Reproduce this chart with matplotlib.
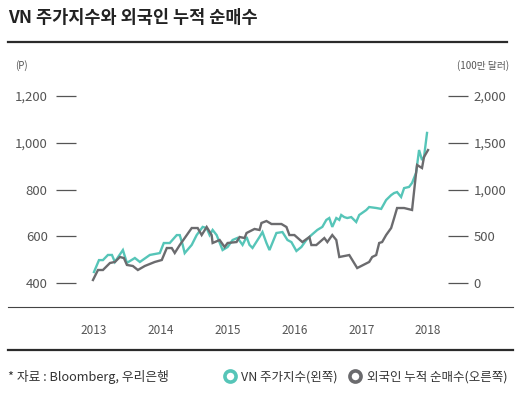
import matplotlib.pyplot as plt
from matplotlib.lines import Line2D

plt.rcParams['font.family'] = ['Noto Sans CJK KR', 'DejaVu Sans']

# VN index (left axis, points), time in fractional years
vn_t = [2013.000, 2013.075, 2013.134, 2013.209, 2013.269, 2013.313, 2013.373, 2013.433,
        2013.493, 2013.612, 2013.687, 2013.836, 2013.985, 2014.045, 2014.134, 2014.239,
        2014.284, 2014.328, 2014.358, 2014.463, 2014.537, 2014.627, 2014.687, 2014.731,
        2014.776, 2014.836, 2014.925, 2015.000, 2015.075, 2015.149, 2015.224, 2015.284,
        2015.328, 2015.373, 2015.478, 2015.522, 2015.582, 2015.627, 2015.731, 2015.821,
        2015.896, 2015.955, 2016.030, 2016.104, 2016.179, 2016.254, 2016.343, 2016.418,
        2016.478, 2016.522, 2016.567, 2016.627, 2016.672, 2016.701, 2016.746, 2016.791,
        2016.851, 2016.925, 2016.970, 2017.075, 2017.119, 2017.224, 2017.299, 2017.373,
        2017.448, 2017.493, 2017.537, 2017.597, 2017.642, 2017.716, 2017.761, 2017.821,
        2017.866, 2017.910, 2017.940, 2017.985]
vn_index = [447, 498, 498, 520, 520, 490, 516, 541,
            486, 507, 490, 520, 528, 571, 571, 605,
            605, 563, 528, 563, 605, 640, 635, 605,
            627, 605, 541, 554, 584, 593, 563, 597,
            563, 550, 597, 618, 571, 541, 614, 618,
            584, 575, 537, 554, 584, 605, 627, 640,
            670, 678, 640, 678, 670, 691, 682, 678,
            682, 661, 691, 712, 725, 721, 717, 755,
            776, 785, 789, 768, 806, 811, 828, 871,
            969, 926, 939, 1042]

# cumulative foreign net buying (right axis, USD mn)
flow_t = [2012.985, 2013.060, 2013.134, 2013.239, 2013.313, 2013.388, 2013.448, 2013.493,
          2013.582, 2013.657, 2013.761, 2013.910, 2014.015, 2014.090, 2014.164, 2014.209,
          2014.284, 2014.358, 2014.463, 2014.552, 2014.612, 2014.687, 2014.761, 2014.776,
          2014.881, 2014.955, 2015.000, 2015.134, 2015.179, 2015.254, 2015.284, 2015.403,
          2015.478, 2015.507, 2015.582, 2015.657, 2015.746, 2015.806, 2015.881, 2015.925,
          2016.000, 2016.119, 2016.224, 2016.254, 2016.328, 2016.448, 2016.493, 2016.567,
          2016.627, 2016.672, 2016.821, 2016.940, 2017.119, 2017.164, 2017.224, 2017.269,
          2017.313, 2017.373, 2017.448, 2017.493, 2017.537, 2017.642, 2017.761, 2017.821,
          2017.836, 2017.910, 2017.940, 2018.000]
foreign_net = [32, 139, 139, 214, 225, 278, 267, 193,
               182, 139, 182, 225, 246, 374, 374, 321,
               406, 481, 588, 588, 513, 599, 513, 428,
               460, 385, 428, 438, 492, 481, 535, 578,
               567, 642, 663, 631, 631, 631, 599, 513,
               513, 438, 492, 406, 406, 481, 438, 513,
               460, 278, 299, 160, 225, 278, 299, 428,
               438, 513, 588, 695, 802, 802, 781, 1176,
               1262, 1230, 1348, 1422]

years = [2013, 2014, 2015, 2016, 2017, 2018]
left_ticks = [400, 600, 800, 1000, 1200]
right_ticks = [0, 500, 1000, 1500, 2000]

teal = '#56c5b8'
gray = '#6b6b6e'
text_c = '#555555'

W, H = 530, 393
fig = plt.figure(figsize=(W / 100, H / 100), dpi=100)

ax = fig.add_axes([76 / W, 1 - 300 / H, (448 - 76) / W, (300 - 85) / H])
ax2 = ax.twinx()

ax.plot(vn_t, vn_index, color=teal, lw=1.7, solid_joinstyle='miter')
ax2.plot(flow_t, foreign_net, color=gray, lw=1.7, solid_joinstyle='miter')

ax.set_xlim(2012.731, 2018.299)
ax.set_ylim(327.3, 1247.1)
ax2.set_ylim(-181.8, 2117.8)

ax.set_xticks(years)
ax.set_xticklabels([str(y) for y in years])
ax.set_yticks(left_ticks)
ax.set_yticklabels([f'{v:,}' for v in left_ticks])
ax2.set_yticks(right_ticks)
ax2.set_yticklabels([f'{v:,}' for v in right_ticks])

for a in (ax, ax2):
    for s in a.spines.values():
        s.set_visible(False)
ax.tick_params(axis='x', length=0, pad=17, labelsize=8.5, labelcolor=text_c)
ax.tick_params(axis='y', length=14.4, width=0.9, color='#555555', pad=6,
               labelsize=9.5, labelcolor=text_c)
ax2.tick_params(axis='y', length=14.4, width=0.9, color='#555555', pad=4,
                labelsize=9.5, labelcolor=text_c)

# title and rules
fig.text(8 / W, 1 - 18 / H, 'VN 주가지수와 외국인 누적 순매수', fontsize=12.6,
         fontweight='bold', color='#222222', va='center', ha='left')
fig.add_artist(Line2D([8 / W, 507 / W], [1 - 42 / H] * 2, color='#2b2b2b', lw=1.6))
fig.add_artist(Line2D([8 / W, 513 / W], [1 - 307 / H] * 2, color='#444444', lw=0.8))
fig.add_artist(Line2D([8 / W, 513 / W], [1 - 350 / H] * 2, color='#2b2b2b', lw=1.6))

fig.text(15 / W, 1 - 66 / H, '(P)', fontsize=7, color=text_c, va='center', ha='left')
fig.text(509 / W, 1 - 66 / H, '(100만 달러)', fontsize=7, color=text_c, va='center', ha='right')

fig.text(8 / W, 1 - 377 / H, '* 자료 : Bloomberg, 우리은행', fontsize=9.2,
         color='#333333', va='center', ha='left')

handles = [Line2D([], [], ls='none', marker='o', ms=8, mfc='white', mec=teal, mew=2.6),
           Line2D([], [], ls='none', marker='o', ms=8, mfc='white', mec=gray, mew=2.6)]
fig.legend(handles, ['VN 주가지수(왼쪽)', '외국인 누적 순매수(오른쪽)'], ncol=2,
           loc='center right', bbox_to_anchor=(519 / W, 1 - 377 / H), frameon=False,
           handlelength=1.0, handletextpad=0.45, columnspacing=0.9,
           prop={'size': 9}, labelcolor='#333333')

fig.savefig('out.png', dpi=100)
